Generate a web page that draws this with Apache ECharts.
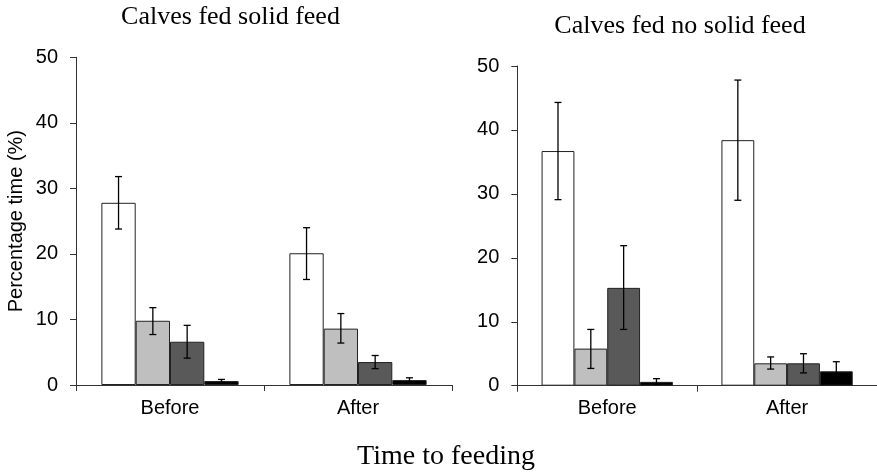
<!DOCTYPE html>
<html>
<head>
<meta charset="utf-8">
<script src="https://cdn.jsdelivr.net/npm/echarts@6/dist/echarts.min.js"></script>
<style>html,body{margin:0;padding:0;background:#fff}#c{width:877px;height:473px}</style>
</head>
<body>
<div id="c"></div>
<script>
// ---- data ----
const categories = ['Before', 'After'];
const yTicks = [0, 10, 20, 30, 40, 50];
const seriesNames = ['Category 1', 'Category 2', 'Category 3', 'Category 4'];
const seriesColors = ['#ffffff', '#bfbfbf', '#595959', '#000000'];

// Calves fed solid feed: mean per series [Before, After]
const solidMean1 = [27.8, 20.1];
const solidMean2 = [9.8, 8.6];
const solidMean3 = [6.6, 3.5];
const solidMean4 = [0.6, 0.75];
// error bar lower / upper bounds
const solidLow1 = [23.8, 16.1];
const solidHigh1 = [31.8, 24.0];
const solidLow2 = [7.7, 6.4];
const solidHigh2 = [11.8, 10.9];
const solidLow3 = [4.1, 2.5];
const solidHigh3 = [9.1, 4.5];
const solidLow4 = [0.4, 0.4];
const solidHigh4 = [0.85, 1.1];

// Calves fed no solid feed
const noSolidMean1 = [36.7, 38.4];
const noSolidMean2 = [5.8, 3.5];
const noSolidMean3 = [15.3, 3.5];
const noSolidMean4 = [0.6, 2.25];
const noSolidLow1 = [29.1, 29.0];
const noSolidHigh1 = [44.3, 47.8];
const noSolidLow2 = [2.7, 2.6];
const noSolidHigh2 = [8.8, 4.5];
const noSolidLow3 = [8.8, 2.0];
const noSolidHigh3 = [21.9, 5.0];
const noSolidLow4 = [0.2, 0.75];
const noSolidHigh4 = [1.1, 3.75];

const panelTitles = ['Calves fed solid feed', 'Calves fed no solid feed'];
const yAxisName = 'Percentage time (%)';
const xAxisName = 'Time to feeding';

// ---- build ----
const GAP = 0.27;
const panels = [
  {means: [solidMean1, solidMean2, solidMean3, solidMean4],
   lows: [solidLow1, solidLow2, solidLow3, solidLow4],
   highs: [solidHigh1, solidHigh2, solidHigh3, solidHigh4]},
  {means: [noSolidMean1, noSolidMean2, noSolidMean3, noSolidMean4],
   lows: [noSolidLow1, noSolidLow2, noSolidLow3, noSolidLow4],
   highs: [noSolidHigh1, noSolidHigh2, noSolidHigh3, noSolidHigh4]}
];

const labelFont = {fontFamily: 'Liberation Sans', fontSize: 20, color: '#000'};
const axisLine = {show: true, lineStyle: {color: '#333', width: 1}};

const grids = [
  {left: 76, top: 57.3, width: 376, height: 327.7},
  {left: 517.3, top: 66, width: 364, height: 319.7}
];

const xAxes = grids.map((g, i) => ({
  type: 'category', gridIndex: i, data: categories,
  axisLine: axisLine,
  axisTick: {show: true, alignWithLabel: false, length: 6, lineStyle: {color: '#333'}},
  axisLabel: Object.assign({margin: 13}, labelFont),
  splitLine: {show: false}
}));

const yAxes = grids.map((g, i) => ({
  type: 'value', gridIndex: i, min: 0, max: 50, interval: 10,
  axisLine: axisLine,
  axisTick: {show: true, length: 6, lineStyle: {color: '#333'}},
  axisLabel: Object.assign({margin: 18, customValues: yTicks}, labelFont),
  splitLine: {show: false},
  name: i === 0 ? yAxisName : '',
  nameLocation: 'middle',
  nameGap: 50,
  nameTextStyle: {fontFamily: 'Liberation Sans', fontSize: 20, color: '#000'}
}));

const series = [];
panels.forEach((p, gi) => {
  p.means.forEach((m, si) => {
    series.push({
      type: 'bar', name: seriesNames[si], xAxisIndex: gi, yAxisIndex: gi,
      data: m, barGap: '0%', barCategoryGap: (GAP * 100) + '%',
      itemStyle: {color: seriesColors[si], borderColor: '#222', borderWidth: 1},
      emphasis: {disabled: true}, z: 2
    });
  });
  const errData = [];
  p.means.forEach((m, si) => {
    m.forEach((v, ci) => errData.push([ci, si, p.lows[si][ci], p.highs[si][ci]]));
  });
  series.push({
    type: 'custom', xAxisIndex: gi, yAxisIndex: gi, z: 5,
    data: errData,
    renderItem: function (params, api) {
      const ci = api.value(0), si = api.value(1);
      const band = api.size([1, 0])[0];
      const bw = band * (1 - GAP) / 4;
      const cx = api.coord([ci, 0])[0] + (si - 1.5) * bw;
      const yl = api.coord([ci, api.value(2)])[1];
      const yh = api.coord([ci, api.value(3)])[1];
      const cap = 3.5;
      const st = {stroke: '#000', lineWidth: 1.3};
      return {type: 'group', children: [
        {type: 'line', shape: {x1: cx, y1: yl, x2: cx, y2: yh}, style: st},
        {type: 'line', shape: {x1: cx - cap, y1: yh, x2: cx + cap, y2: yh}, style: st},
        {type: 'line', shape: {x1: cx - cap, y1: yl, x2: cx + cap, y2: yl}, style: st}
      ]};
    }
  });
});

const titleFont = 'Liberation Serif';
const option = {
  animation: false,
  backgroundColor: '#fff',
  grid: grids,
  xAxis: xAxes,
  yAxis: yAxes,
  series: series,
  graphic: [
    {type: 'text', x: 230.5, y: 17, style: {text: panelTitles[0], font: '26px "' + titleFont + '"', fill: '#000', textAlign: 'center', textVerticalAlign: 'middle'}},
    {type: 'text', x: 680, y: 26, style: {text: panelTitles[1], font: '26px "' + titleFont + '"', fill: '#000', textAlign: 'center', textVerticalAlign: 'middle'}},
    {type: 'text', x: 446, y: 457, style: {text: xAxisName, font: '28px "' + titleFont + '"', fill: '#000', textAlign: 'center', textVerticalAlign: 'middle'}}
  ]
};

const chart = echarts.init(document.getElementById('c'), null, {renderer: 'canvas'});
chart.setOption(option);
</script>
</body>
</html>
